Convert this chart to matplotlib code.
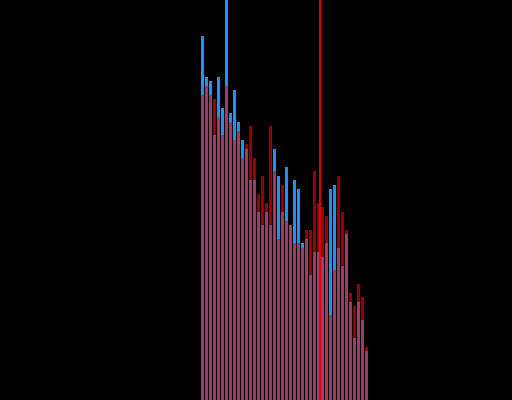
import numpy as np
import matplotlib
matplotlib.use('Agg')
import matplotlib.pyplot as plt

# bin index (one bar per bin)
bins = np.arange(42)

# histogram counts, blue series (drawn first)
blue_counts = [364, 323, 319, 265, 323, 292, 400, 287, 310, 278,
               260, 251, 220, 220, 188, 175, 188, 175, 251, 224,
               188, 233, 175, 220, 211, 157, 161, 125, 148, 148,
               143, 157, 211, 215, 152, 134, 166, 98, 62, 98,
               80, 49]

# histogram counts, red series (drawn on top, semi-transparent)
red_counts = [305, 314, 305, 301, 283, 265, 314, 278, 260, 269,
              242, 256, 274, 242, 206, 224, 197, 274, 229, 161,
              215, 179, 175, 157, 157, 152, 170, 170, 229, 197,
              193, 184, 85, 130, 224, 188, 170, 107, 94, 116,
              103, 53]

# marker line position (in bin units)
marker_x = 29.75


def generate_graph():
    fig = plt.figure(figsize=(5.12, 4.0), dpi=100, facecolor='black')
    ax = fig.add_axes([0, 0, 1, 1])
    ax.set_facecolor('black')

    ax.bar(bins, blue_counts, width=0.75, align='edge', color='#1E90FF')
    ax.bar(bins, red_counts, width=0.75, align='edge', color='red', alpha=0.6)
    ax.axvline(marker_x, color='red', linewidth=1.4, alpha=0.9)

    ax.set_xlim(-50.25, 77.75)
    ax.set_ylim(0, 400)
    ax.axis('off')

    fig.savefig('out.png', dpi=100, facecolor='black')


if __name__ == '__main__':
    generate_graph()
